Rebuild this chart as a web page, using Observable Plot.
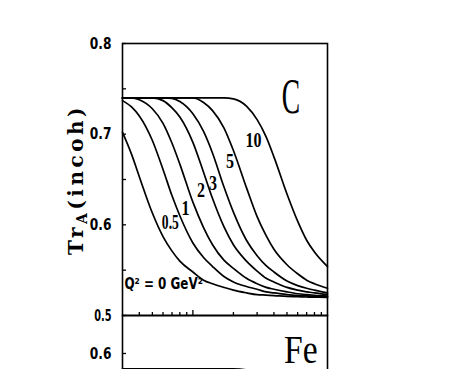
<!DOCTYPE html>
<html><head><meta charset="utf-8">
<script src="https://cdn.jsdelivr.net/npm/d3@7"></script>
<script src="https://cdn.jsdelivr.net/npm/@observablehq/plot@0.6"></script>
<style>
body{margin:0;background:#fff;}
#wrap{position:relative;width:467px;height:369px;overflow:hidden;background:#fff;}
#wrap svg{position:absolute;left:0;overflow:visible;background:transparent;}
</style></head><body><div id="wrap"></div>
<script>
// photon energy nu (GeV), log axis
const nu = [3, 3.5, 4, 5, 6, 7, 8, 10, 12, 14, 17, 20, 25, 30, 35, 40, 50, 60, 70, 80, 100];
// Tr_A(incoh) for carbon, one array per Q^2 (GeV^2)
const q0  = [0.702, 0.678, 0.653, 0.613, 0.587, 0.571, 0.560, 0.548, 0.539, 0.535, 0.531, 0.528, 0.525, 0.523, 0.5225, 0.522, 0.521, 0.5207, 0.5204, 0.5202, 0.520];
const q05 = [0.737, 0.730, 0.720, 0.693, 0.661, 0.632, 0.610, 0.580, 0.564, 0.554, 0.543, 0.537, 0.532, 0.529, 0.526, 0.525, 0.523, 0.522, 0.5216, 0.5212, 0.5205];
const q1  = [0.740, 0.740, 0.738, 0.728, 0.712, 0.690, 0.667, 0.625, 0.597, 0.578, 0.561, 0.552, 0.541, 0.535, 0.531, 0.529, 0.526, 0.524, 0.523, 0.5223, 0.5214];
const q2  = [0.740, 0.740, 0.740, 0.740, 0.737, 0.729, 0.719, 0.691, 0.658, 0.629, 0.598, 0.578, 0.560, 0.549, 0.541, 0.537, 0.531, 0.528, 0.526, 0.525, 0.523];
const q3  = [0.740, 0.740, 0.740, 0.740, 0.740, 0.7395, 0.736, 0.7225, 0.703, 0.679, 0.642, 0.614, 0.583, 0.566, 0.555, 0.548, 0.538, 0.533, 0.530, 0.528, 0.525];
const q5  = [0.740, 0.740, 0.740, 0.740, 0.740, 0.740, 0.740, 0.740, 0.735, 0.726, 0.707, 0.682, 0.641, 0.609, 0.588, 0.573, 0.556, 0.546, 0.539, 0.535, 0.530];
const q10 = [0.740, 0.740, 0.740, 0.740, 0.740, 0.740, 0.740, 0.740, 0.740, 0.740, 0.740, 0.739, 0.731, 0.716, 0.697, 0.675, 0.634, 0.604, 0.583, 0.570, 0.554];
const seriesNames = ["0", "0.5", "1", "2", "3", "5", "10"];
const seriesValues = [q0, q05, q1, q2, q3, q5, q10];

// curve labels
const curveLabels = ["0.5", "1", "2", "3", "5", "10"];
const labelNu = [6.8, 8.8, 11.5, 14.1, 18.9, 28.2];
const labelTr = [0.603, 0.618, 0.638, 0.646, 0.670, 0.693];
const q2Label = "Q² = 0 GeV²";
const q2LabelNu = 3.1, q2LabelTr = 0.535;
const panelC = "C", panelCNu = 53.5, panelCTr = 0.7415;
const panelFe = "Fe", panelFeNu = 63.4, panelFeTr = 0.6045;
const yTitle = "TrA(incoh)";

// ticks
const yTicksMajor = [0.5, 0.6, 0.7, 0.8];
const yTicksMinor = [0.55, 0.65, 0.75];
const xTicksMajor = [10];
const xTicksMinor = [4, 5, 6, 7, 8, 9, 20, 30, 40, 50, 60, 70, 80, 90];
const feTicks = [0.6];

// visible top edge of the Fe panel curves
const feNu = [3, 5, 10, 20, 25, 30, 40];
const feTr = [0.5832, 0.5832, 0.5832, 0.5832, 0.582, 0.572, 0.55];

const rows = seriesNames.flatMap((s, i) => nu.map((n, j) => ({s, nu: n, tr: seriesValues[i][j]})));
const labelRows = curveLabels.map((t, i) => ({t, nu: labelNu[i], tr: labelTr[i]}));
const feRows = feNu.map((n, i) => ({nu: n, tr: feTr[i]}));

const narrow = "'Liberation Sans Narrow','DejaVu Sans Condensed','Liberation Sans',sans-serif";
const serif = "'Liberation Serif','DejaVu Serif',serif";

const topPlot = Plot.plot({
  width: 467, height: 316,
  marginTop: 43, marginBottom: 1, marginLeft: 122, marginRight: 140,
  x: {type: "log", domain: [3, 100]},
  y: {domain: [0.5, 0.8]},
  style: {fontFamily: narrow, background: "transparent", overflow: "visible"},
  marks: [
    Plot.line(rows, {x: "nu", y: "tr", z: "s", stroke: "#000", strokeWidth: 1.7, curve: "monotone-x"}),
    Plot.frame({stroke: "#000", strokeWidth: 1.6}),
    Plot.axisY(yTicksMajor, {anchor: "left", tickSize: -4, tickPadding: 15, tickFormat: d3.format(".1f"), fontSize: 16, fontWeight: "bold", label: null, strokeWidth: 1.3}),
    Plot.axisY(yTicksMinor, {anchor: "left", tickSize: -4, tickFormat: () => "", label: null, strokeWidth: 1.3}),
    Plot.axisX(xTicksMinor, {anchor: "bottom", tickSize: -3, tickFormat: () => "", label: null, strokeWidth: 1.3}),
    Plot.axisX(xTicksMajor, {anchor: "bottom", tickSize: -5, tickFormat: () => "", label: null, strokeWidth: 1.3}),
    Plot.text(labelRows, {x: "nu", y: "tr", text: "t", fontSize: 20, fontWeight: "bold", fontFamily: serif, fill: "#000"}),
    Plot.text([q2Label], {x: [q2LabelNu], y: [q2LabelTr], text: d => d, textAnchor: "start", fontSize: 16, fontWeight: "bold", fill: "#000"}),
    Plot.text([panelC], {x: [panelCNu], y: [panelCTr], text: d => d, fontSize: 50, fontFamily: serif, fill: "#000"}),
    Plot.text([yTitle], {frameAnchor: "left", textAnchor: "middle", dx: -46, rotate: -90, text: d => d, fontSize: 20, fontWeight: "bold", fontFamily: "'DejaVu Serif','Liberation Serif',serif", fill: "#000"})
  ]
});

const bottomPlot = Plot.plot({
  width: 467, height: 174,
  marginTop: 0, marginBottom: 0, marginLeft: 122, marginRight: 140,
  x: {type: "log", domain: [3, 100], axis: null},
  y: {domain: [0.45, 0.6419]},
  style: {fontFamily: narrow, background: "transparent", overflow: "visible"},
  marks: [
    Plot.line(feRows, {x: "nu", y: "tr", stroke: "#000", strokeWidth: 1.5, curve: "monotone-x"}),
    Plot.frame({stroke: "#000", strokeWidth: 1.6}),
    Plot.axisY(feTicks, {anchor: "left", tickSize: -4, tickPadding: 15, tickFormat: d3.format(".1f"), fontSize: 16, fontWeight: "bold", label: null, strokeWidth: 1.3}),
    Plot.text([panelFe], {x: [panelFeNu], y: [panelFeTr], text: d => d, fontSize: 41, fontFamily: serif, fill: "#000"})
  ]
});

const wrap = document.getElementById("wrap");
topPlot.style.top = "0px";
bottomPlot.style.top = "315px";
wrap.appendChild(bottomPlot);
wrap.appendChild(topPlot);

// horizontal squeeze only (condensed look), keeping Plot's own position and baseline offset
function squeeze(svg, content, s) {
  d3.select(svg).selectAll("text").filter(function() { return this.textContent === content; }).each(function() {
    const t = this.getAttribute("transform") || "";
    this.setAttribute("transform", `${t} scale(${s},1)`);
  });
}
squeeze(topPlot, panelC, 0.55);
squeeze(bottomPlot, panelFe, 0.82);
curveLabels.forEach(l => squeeze(topPlot, l, 0.8));
squeeze(topPlot, q2Label, 0.83);
["0.5", "0.6", "0.7", "0.8"].forEach(l => { squeeze(topPlot, l, 0.85); squeeze(bottomPlot, l, 0.85); });

// subscript A in the y title
d3.select(topPlot).selectAll("text").filter(function() { return this.textContent === yTitle; }).each(function() {
  const el = d3.select(this);
  el.text(null).style("letter-spacing", "3.5px").attr("fill", "#000");
  el.append("tspan").attr("fill", "#000").text("Tr");
  el.append("tspan").attr("fill", "#000").attr("dy", 4).attr("font-size", 14).text("A");
  el.append("tspan").attr("fill", "#000").attr("dy", -4).text("(incoh)");
});
</script></body></html>
